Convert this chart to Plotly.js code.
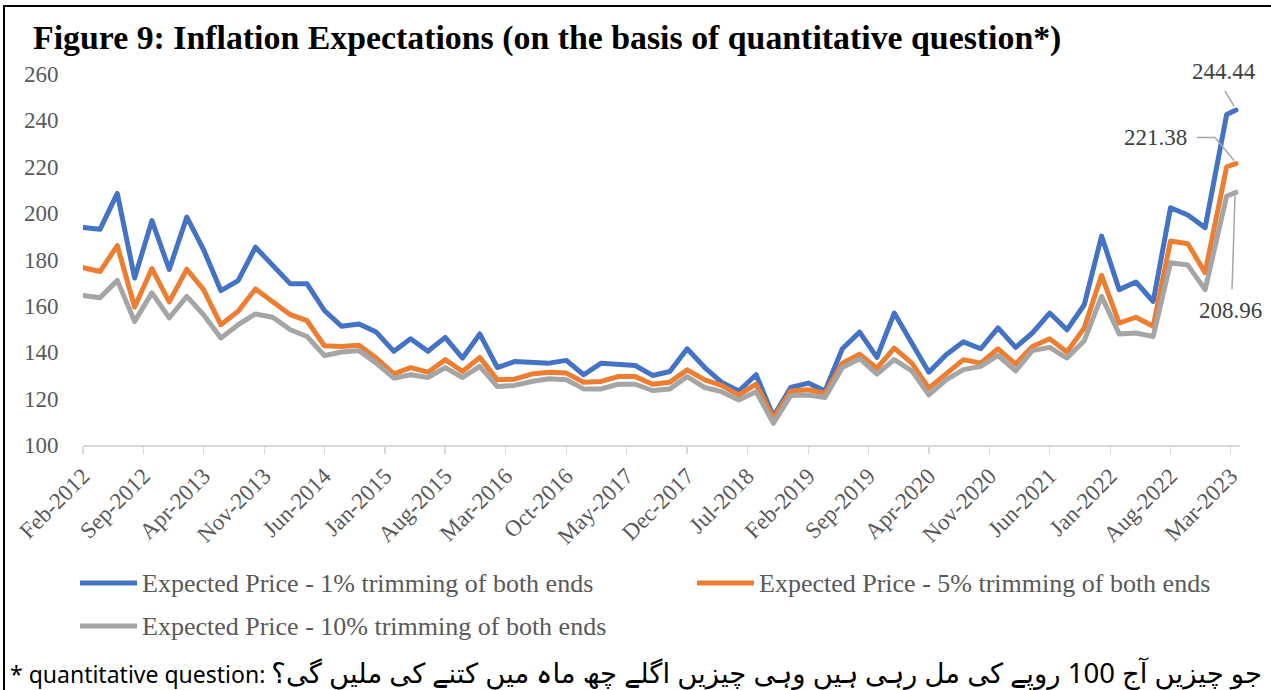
<!DOCTYPE html>
<html>
<head>
<meta charset="utf-8">
<script src="https://cdn.plot.ly/plotly-3.0.1.min.js"></script>
<style>
html,body{margin:0;padding:0;background:#fff;overflow:hidden;width:1271px;height:690px}
#chart{position:absolute;left:0;top:0;width:1271px;height:690px}
#frame{position:absolute;left:3px;top:5px;width:1400px;height:800px;border:2px solid #000;pointer-events:none}
.js-line{stroke-linejoin:round !important;stroke-linecap:round !important}
</style>
</head>
<body>
<div id="chart"></div>
<div id="frame"></div>
<script>
// ---------------- data ----------------
const titleText = 'Figure 9: Inflation Expectations (on the basis of quantitative question*)';
const footnoteLead = '* quantitative question: ';
const footnoteUrdu = 'جو چیزیں آج 100 روپے کی مل رہی ہیں وہی چیزیں اگلے چھ ماہ میں کتنے کی ملیں گی؟';

const seriesNames = [
  'Expected Price - 1% trimming of both ends',
  'Expected Price - 5% trimming of both ends',
  'Expected Price - 10% trimming of both ends'
];

const dates = [
  '2012-02-01','2012-04-01','2012-06-01','2012-08-01','2012-10-01','2012-12-01',
  '2013-02-01','2013-04-01','2013-06-01','2013-08-01','2013-10-01','2013-12-01',
  '2014-02-01','2014-04-01','2014-06-01','2014-08-01','2014-10-01','2014-12-01',
  '2015-02-01','2015-04-01','2015-06-01','2015-08-01','2015-10-01','2015-12-01',
  '2016-02-01','2016-04-01','2016-06-01','2016-08-01','2016-10-01','2016-12-01',
  '2017-02-01','2017-04-01','2017-06-01','2017-08-01','2017-10-01','2017-12-01',
  '2018-02-01','2018-04-01','2018-06-01','2018-08-01','2018-10-01','2018-12-01',
  '2019-02-01','2019-04-01','2019-06-01','2019-08-01','2019-10-01','2019-12-01',
  '2020-02-01','2020-04-01','2020-06-01','2020-08-01','2020-10-01','2020-12-01',
  '2021-02-01','2021-04-01','2021-06-01','2021-08-01','2021-10-01','2021-12-01',
  '2022-02-01','2022-04-01','2022-06-01','2022-08-01','2022-10-01','2022-12-01',
  '2023-02-15','2023-03-20'
];

const trim1 = [
  193.8,193.0,208.5,172.0,196.8,175.7,
  198.3,184.3,166.6,170.9,185.3,177.5,
  169.5,169.5,158.0,151.2,152.2,148.7,
  140.4,145.8,140.4,146.4,137.5,147.9,
  133.4,136.0,135.7,135.3,136.5,130.3,
  135.3,135.0,134.3,130.0,131.7,141.5,
  133.4,127.1,123.3,130.3,112.3,124.8,
  126.7,123.3,141.5,148.7,137.8,156.9,
  144.4,131.4,138.9,144.5,141.5,150.5,
  142.1,148.3,156.9,149.7,160.5,190.1,
  167.0,170.3,161.9,202.3,199.2,193.7,
  242.5,244.44
];

const trim5 = [
  176.5,174.8,186.0,159.5,176.1,161.7,
  175.8,167.0,151.9,157.7,167.3,162.0,
  156.2,153.6,142.8,142.5,143.0,137.5,
  130.7,133.4,131.4,136.8,131.7,137.8,
  128.1,128.4,130.6,131.4,131.0,127.1,
  127.4,129.5,129.5,126.2,127.1,132.4,
  128.1,125.7,121.6,126.2,111.5,123.3,
  123.8,122.3,135.3,139.2,133.1,141.8,
  135.3,124.5,130.6,136.8,135.3,141.5,
  134.9,142.5,145.8,140.1,150.5,173.2,
  152.6,155.1,151.2,188.0,186.8,174.3,
  220.0,221.38
];

const trim10 = [
  164.5,163.5,171.0,153.3,165.6,154.8,
  164.1,156.2,146.1,151.9,156.5,155.1,
  149.7,146.8,138.6,140.1,140.7,135.3,
  128.8,130.3,129.1,133.4,129.1,133.9,
  125.2,125.7,127.4,128.6,128.1,124.2,
  124.2,126.2,126.2,123.5,124.2,129.5,
  124.8,123.0,119.4,123.0,109.4,121.3,
  121.6,120.5,133.4,137.2,130.6,136.8,
  132.0,121.6,128.1,132.5,133.9,138.6,
  132.0,140.7,142.1,137.5,145.0,164.1,
  147.9,148.3,146.8,178.6,177.6,167.0,
  207.4,208.96
];

const tickLabels = ['Feb-2012','Sep-2012','Apr-2013','Nov-2013','Jun-2014','Jan-2015','Aug-2015',
  'Mar-2016','Oct-2016','May-2017','Dec-2017','Jul-2018','Feb-2019','Sep-2019','Apr-2020',
  'Nov-2020','Jun-2021','Jan-2022','Aug-2022','Mar-2023'];

// ---------------- style / layout ----------------
const colors = ['#4472C4', '#ED7D31', '#A5A5A5'];
const series = [trim1, trim5, trim10];

const W = 1271, H = 690;
const M = {l: 83, r: 31, t: 74, b: 245};
const PW = W - M.l - M.r, PH = H - M.t - M.b;
const px2paperX = px => (px - M.l) / PW;
const px2paperY = py => (H - M.b - py) / PH;

const SERIF = "'Liberation Serif', 'Times New Roman', serif";
const SANS = "'Noto Sans', 'DejaVu Sans', sans-serif";

const ctx = document.createElement('canvas').getContext('2d');
function fitSize(text, family, weight, target) {
  ctx.font = weight + ' 100px ' + family;
  return 100 * target / ctx.measureText(text).width;
}

const titleSize = fitSize(titleText, SERIF, 'bold', 1029);
const legendSize = Math.min(26, fitSize(seriesNames[0], SERIF, 'normal', 453));
const footLeadSize = 23;
const footUrduSize = 27.5;
const tickSize = 23;

const monthIdx = {Jan:'01',Feb:'02',Mar:'03',Apr:'04',May:'05',Jun:'06',Jul:'07',Aug:'08',Sep:'09',Oct:'10',Nov:'11',Dec:'12'};
const tickVals = tickLabels.map(s => s.slice(4) + '-' + monthIdx[s.slice(0,3)] + '-01');

const traces = series.map((vals, i) => ({
  type: 'scatter', mode: 'lines', x: dates, y: vals, name: seriesNames[i],
  line: {color: colors[i], width: 5}, hoverinfo: 'skip', showlegend: false
}));

const last = dates.length - 1;
// data labels on last points
const labelOffsets = [[-12, 39], [-81, 26], [-6, -118]];
const leaderPaths = ['M-11,19 L-2,4', 'M-39,26 L-21,26 L-2,3', 'M-1,-3 L-4,-97'];

const annotations = [];
const shapes = [];
series.forEach((vals, i) => {
  annotations.push({
    x: dates[last], y: vals[last], xref: 'x', yref: 'y', showarrow: false,
    text: vals[last].toFixed(2), xanchor: 'center', yanchor: 'middle',
    xshift: labelOffsets[i][0], yshift: labelOffsets[i][1],
    font: {family: SERIF, size: tickSize, color: '#404040'}
  });
  shapes.push({
    type: 'path', xref: 'x', yref: 'y', xsizemode: 'pixel', ysizemode: 'pixel',
    xanchor: dates[last], yanchor: vals[last], path: leaderPaths[i],
    line: {color: '#A6A6A6', width: 1.5}
  });
});

// custom legend
const legendPos = [[80, 583], [697, 583], [80, 626]];
series.forEach((vals, i) => {
  const [lx, ly] = legendPos[i];
  shapes.push({
    type: 'line', xref: 'paper', yref: 'paper',
    x0: px2paperX(lx), x1: px2paperX(lx + 57), y0: px2paperY(ly), y1: px2paperY(ly),
    line: {color: colors[i], width: 5}
  });
  annotations.push({
    xref: 'paper', yref: 'paper', x: px2paperX(lx + 60), y: px2paperY(ly),
    xanchor: 'left', yanchor: 'middle', showarrow: false, text: seriesNames[i],
    font: {family: SERIF, size: legendSize, color: '#595959'}
  });
});

// footnote
annotations.push({
  xref: 'paper', yref: 'paper', x: px2paperX(8), y: px2paperY(672),
  xanchor: 'left', yanchor: 'middle', showarrow: false,
  text: footnoteLead + '<span style="font-size:' + footUrduSize + 'px">' + footnoteUrdu + '</span>',
  font: {family: SANS, size: footLeadSize, color: '#000000'}
});

const layout = {
  width: W, height: H,
  margin: {l: M.l, r: M.r, t: M.t, b: M.b, pad: 0},
  paper_bgcolor: '#ffffff', plot_bgcolor: '#ffffff',
  showlegend: false,
  title: {
    text: titleText, xref: 'container', yref: 'container',
    x: 33 / W, xanchor: 'left', y: 1 - 37 / H, yanchor: 'middle',
    font: {family: SERIF, size: titleSize, color: '#000000', weight: 700}
  },
  xaxis: {
    type: 'date', range: ['2012-02-01', '2023-04-03'],
    tickmode: 'array', tickvals: tickVals, ticktext: tickLabels,
    tickangle: -45, ticks: 'outside', ticklen: 7, tickwidth: 1.5, tickcolor: '#D9D9D9',
    showline: true, linecolor: '#D9D9D9', linewidth: 1.5,
    showgrid: false, zeroline: false, automargin: false,
    tickfont: {family: SERIF, size: tickSize, color: '#595959'}
  },
  yaxis: {
    range: [100, 260], tick0: 100, dtick: 20,
    ticks: 'outside', ticklen: 19, tickcolor: 'rgba(0,0,0,0)',
    showline: false, showgrid: false, zeroline: false, automargin: false,
    tickfont: {family: SERIF, size: tickSize, color: '#595959'}
  },
  annotations: annotations,
  shapes: shapes
};

Plotly.newPlot('chart', traces, layout, {displayModeBar: false, staticPlot: true});
</script>
</body>
</html>
